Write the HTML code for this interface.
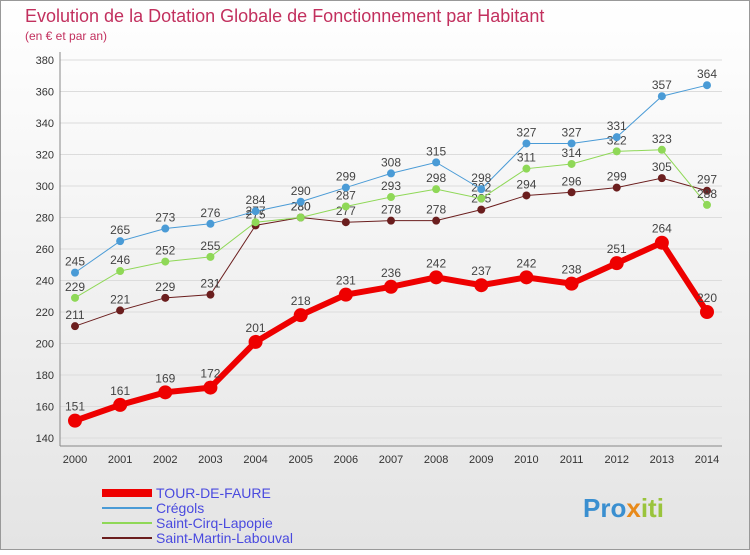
<!DOCTYPE html>
<html><head><meta charset="utf-8"><style>
body{margin:0;width:750px;height:550px;overflow:hidden;font-family:"Liberation Sans",sans-serif;}
svg text{font-family:"Liberation Sans",sans-serif;}
</style></head><body>
<svg id="c" width="750" height="550" xmlns="http://www.w3.org/2000/svg">
<defs>
<linearGradient id="bg" x1="0" y1="0" x2="0" y2="1"><stop offset="0" stop-color="#ffffff"/><stop offset="1" stop-color="#e4e4e4"/></linearGradient>
</defs>
<rect x="0.5" y="0.5" width="749" height="549" fill="url(#bg)" stroke="#999"/>
<text x="25" y="22" font-size="18" fill="#c2305e">Evolution de la Dotation Globale de Fonctionnement par Habitant</text>
<text x="25" y="40" font-size="12" fill="#c2305e">(en € et par an)</text>
<g id="grid"></g><g id="axes"></g><g id="series"></g><g id="legend"></g>
<text x="583" y="517" font-size="26" font-weight="bold" fill="#3a8fd0">Pro<tspan fill="#e88a1a">x</tspan><tspan fill="#9ac43c">iti</tspan></text>
</svg>
<script>
const years=[2000,2001,2002,2003,2004,2005,2006,2007,2008,2009,2010,2011,2012,2013,2014];
const yTicks=[140,160,180,200,220,240,260,280,300,320,340,360,380];
const tourDeFaure=[151,161,169,172,201,218,231,236,242,237,242,238,251,264,220];
const cregols=[245,265,273,276,284,290,299,308,315,298,327,327,331,357,364];
const saintCirq=[229,246,252,255,277,280,287,293,298,292,311,314,322,323,288];
const saintMartin=[211,221,229,231,275,280,277,278,278,285,294,296,299,305,297];
const NS="http://www.w3.org/2000/svg";
const xS=y=>75+(y-2000)*(632/14);
const yS=v=>438-(v-140)*(378/240);
function mk(t,a,p){const e=document.createElementNS(NS,t);for(const k in a)e.setAttribute(k,a[k]);p.appendChild(e);return e;}
const grid=document.getElementById('grid'),axes=document.getElementById('axes'),ser=document.getElementById('series'),leg=document.getElementById('legend');
yTicks.forEach(v=>{
 const l=mk('line',{x1:60,x2:722,y1:yS(v),y2:yS(v),stroke:'#dcdcdc','stroke-width':1},grid);
 
 
 const t=mk('text',{x:54,y:yS(v)+4,'font-size':11,fill:'#333','text-anchor':'end'},axes);t.textContent=v;
 
 
});
years.forEach(y=>{
 const t=mk('text',{x:xS(y),y:463,'font-size':11,fill:'#333','text-anchor':'middle'},axes);t.textContent=y;
 
 
});
const a1=mk('line',{x1:60,x2:60,y1:52,y2:446,stroke:'#888'},axes);


const a2=mk('line',{x1:60,x2:722,y1:446,y2:446,stroke:'#888'},axes);


const defs=[
 {name:'saint-martin-labouval',label:'Saint-Martin-Labouval',data:saintMartin,color:'#6b1e1e',w:1,r:4},
 {name:'saint-cirq-lapopie',label:'Saint-Cirq-Lapopie',data:saintCirq,color:'#8fd857',w:1,r:4},
 {name:'cregols',label:'Crégols',data:cregols,color:'#4a9bd6',w:1,r:4},
 {name:'tour-de-faure',label:'TOUR-DE-FAURE',data:tourDeFaure,color:'#ee0000',w:6,r:7}
];
defs.forEach(s=>{
 const g=mk('g',{},ser);
 
 
 const pl=mk('polyline',{points:s.data.map((v,i)=>xS(years[i])+','+yS(v)).join(' '),fill:'none',stroke:s.color,'stroke-width':s.w},g);
 
 
 s.data.forEach((v,i)=>{
  const c=mk('circle',{cx:xS(years[i]),cy:yS(v),r:s.r,fill:s.color},g);
  
  
  const t=mk('text',{x:xS(years[i]),y:yS(v)-(s.w>2?10:7),'font-size':12,fill:'#444','text-anchor':'middle'},g);t.textContent=v;
  
  
 });
});
const legItems=[defs[3],defs[2],defs[1],defs[0]];
legItems.forEach((s,i)=>{
 const y=493+i*15;
 const g=mk('g',{},leg);
 
 
 mk('line',{x1:102,x2:152,y1:y,y2:y,stroke:s.color,'stroke-width':s.w>2?8:2},g);
 const t=mk('text',{x:156,y:y+5,'font-size':14,fill:'#4a4adf'},g);t.textContent=s.label;
});
</script>
</body></html>
